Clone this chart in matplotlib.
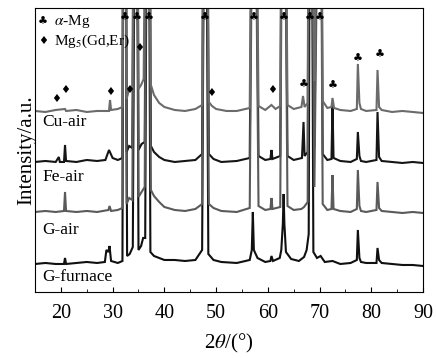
import matplotlib
matplotlib.use("Agg")
import matplotlib.pyplot as plt
from matplotlib.ticker import MultipleLocator

plt.rcParams['font.family'] = ['Liberation Serif', 'DejaVu Sans']
plt.rcParams['mathtext.fontset'] = 'stix'

# XRD traces (2theta, intensity above each trace's baseline)
# 400 = peak runs off the top of the frame
cu_air_x = [15, 17, 19, 20.8, 21, 23, 25, 27, 29.3, 29.5, 29.7, 31, 31.9, 32.1, 32.5, 32.7, 33.2, 33.8,
            34.3, 34.7, 35.0, 35.5, 36.0, 36.6, 37.0, 37.4, 38.0, 39.0, 40.0, 42, 44, 46, 47.3, 47.7,
            48.1, 48.6, 49.2, 50, 52, 54, 56.5, 57.1, 57.5, 58.2, 59.5, 60.7, 61.5, 62.4, 62.8, 63.2,
            63.8, 65, 66.5, 66.8, 67.1, 67.7, 68.0, 68.4, 69.0, 69.8, 70.2, 70.6, 71.5, 72.3, 72.5,
            72.8, 74, 76, 77.2, 77.4, 77.7, 78, 79, 81.0, 81.2, 81.5, 82, 84, 86, 88, 90]
cu_air_y = [0, -1, 1, 2, 0, 1, -1, 0, 0, 11, 1, 2, 4, 400, 400, 12, 22, 24,
            400, 400, 22, 26, 32, 400, 400, 26, 16, 8, 4, 1, 0, 2, 6, 400,
            400, 9, 5, 2, 0, 0, 3, 400, 400, 5, 1, 6, 2, 5, 400, 400,
            6, 2, 4, 15, 4, 8, 400, 400, 30, 400, 400, 10, 3, 4, 13,
            3, 1, 0, 2, 47, 8, 2, 0, 1, 41, 4, 1, -1, 0, -1, -2]

fe_air_x = [15, 17, 19, 19.6, 19.8, 20.6, 20.8, 21.0, 23, 25, 27, 28.6, 29.3, 30.0, 31, 31.9, 32.1,
            32.5, 32.7, 33.2, 33.8, 34.3, 34.7, 35.0, 35.6, 36.2, 36.6, 37.0, 37.4, 38, 39, 40, 42,
            44, 46, 47.3, 47.7, 48.1, 48.6, 49.5, 51, 54, 56.5, 57.1, 57.5, 58.2, 59.5, 60.5, 60.7,
            60.9, 62.4, 62.8, 63.2, 63.8, 65, 66.6, 66.9, 67.1, 67.7, 68.0, 68.4, 69.0, 69.8, 70.2,
            70.6, 71.5, 72.3, 72.5, 72.7, 74, 76, 77.2, 77.4, 77.7, 78, 79, 81.0, 81.2, 81.5, 82,
            84, 86, 88, 90]
fe_air_y = [0, 1, 0, 5, 0, 0, 17, 1, 0, 2, 1, 2, 12, 4, 2, 4, 400,
            400, 10, 16, 14, 400, 400, 12, 18, 20, 400, 400, 16, 10, 5, 2, 0,
            1, 2, 8, 400, 400, 8, 3, 0, 1, 4, 400, 400, 6, 2, 3, 12,
            3, 6, 400, 400, 6, 2, 4, 40, 6, 10, 400, 400, 15, 400, 400,
            8, 2, 3, 58, 4, 1, 0, 3, 30, 6, 1, 0, 2, 50, 5, 1,
            0, -1, 0, -1]

g_air_x = [15, 17, 19, 20.6, 20.8, 21.0, 23, 25, 27, 29.2, 29.4, 29.7, 31, 31.9, 32.1, 32.5, 32.7,
           33.2, 33.8, 34.3, 34.7, 35, 35.6, 36.2, 36.6, 37.0, 37.4, 38, 39, 40, 42, 44, 46, 47.3,
           47.7, 48.1, 48.6, 49.5, 51, 54, 56.5, 57.1, 57.5, 58.2, 59.5, 60.5, 60.7, 60.9, 62.4,
           62.8, 63.2, 63.8, 65, 66.5, 67.0, 67.7, 68.0, 68.4, 69.0, 69.8, 70.2, 70.6, 71.5, 72.3,
           72.5, 72.7, 74, 76, 77.2, 77.4, 77.7, 78, 79, 81, 81.2, 81.5, 82, 84, 86, 88, 90]
g_air_y = [0, 1, 0, 1, 20, 1, 0, 1, 0, 2, 6, 1, 2, 4, 400, 400, 8,
           14, 12, 400, 400, 15, 20, 25, 400, 400, 22, 16, 10, 5, 2, 1, 3, 8,
           400, 400, 8, 4, 1, 0, 4, 400, 400, 6, 2, 3, 14, 3, 5,
           400, 400, 6, 2, 3, 5, 10, 400, 400, 25, 400, 400, 8, 2, 3,
           37, 3, 1, 0, 3, 42, 6, 1, 0, 2, 30, 4, 1, 0, -1, 0, -1]

g_furnace_x = [15, 17, 19, 20.6, 20.8, 21, 23, 25, 27, 28.5, 28.8, 29.2, 29.4, 29.7, 31, 31.9, 32.1,
               32.5, 32.8, 33.3, 33.9, 34.3, 34.7, 35.0, 35.5, 35.9, 36.3, 36.6, 37.0, 37.3, 38, 40,
               42, 44, 46, 47.3, 47.7, 48.1, 48.5, 49.5, 51, 54, 56.5, 56.9, 57.1, 57.3, 58, 59.5,
               60.5, 60.7, 61, 62.3, 62.6, 62.9, 63.05, 63.2, 63.5, 64.5, 66, 67.0, 67.5, 67.9, 68.1,
               68.5, 68.8, 69.5, 70.2, 71, 72.5, 74, 76, 77.2, 77.4, 77.7, 78, 79, 81, 81.2, 81.5,
               82, 84, 86, 88, 90]
g_furnace_y = [0, 1, 0, 0, 6, 0, 1, 2, 1, 2, 14, 12, 18, 3, 1, 3, 400,
               400, 8, 10, 17, 400, 400, 14, 18, 26, 26, 400, 400, 12, 8, 4,
               4, 3, 4, 14, 400, 400, 10, 4, 2, 1, 4, 14, 52, 14, 6, 2,
               3, 8, 3, 6, 14, 40, 70, 40, 12, 5, 3, 7, 14, 30, 400,
               400, 12, 6, 8, 2, 3, 0, 1, 4, 34, 6, 2, 1, 1, 16, 4,
               1, 0, -1, -1, -2]

labels = ['Cu-air', 'Fe-air', 'G-air', 'G-furnace']
baselines = [181, 130, 80, 28]
colors = ['#6b6b6b', '#151515', '#5a5a5a', '#101010']

# phase markers
club_x = [32.3, 34.7, 36.9, 47.9, 57.3, 63.0, 68.2, 70.1, 66.9, 72.5, 77.4, 81.7]
club_y = [274, 274, 274, 274, 274, 274, 274, 274, 207, 206, 233, 237]
diamond_x = [19.1, 20.8, 29.5, 33.2, 35.2, 49.0, 60.8]
diamond_y = [193, 202, 200, 202, 244, 199, 202]

fig = plt.figure(figsize=(4.36, 3.58), dpi=100)
ax = fig.add_axes([0.0803, 0.1844, 0.89, 0.7933])

traces = [(cu_air_x, cu_air_y), (fe_air_x, fe_air_y), (g_air_x, g_air_y), (g_furnace_x, g_furnace_y)]
for i in [3, 1, 2, 0]:
    xs, ys = traces[i]
    ax.plot(xs, [v + baselines[i] for v in ys], color=colors[i], lw=1.5, solid_joinstyle='miter')

label_y = [170, 115, 62, 15]
for lab, ly in zip(labels, label_y):
    ax.text(16.4, ly, lab, fontsize=12.5, va='center', ha='left')

for cx, cy in zip(club_x, club_y):
    ax.text(cx, cy, '\u2663', family='DejaVu Sans', fontsize=8, ha='center', va='center')
for dx, dy in zip(diamond_x, diamond_y):
    ax.text(dx, dy, '\u2666', family='DejaVu Sans', fontsize=8, ha='center', va='center')

# legend
ax.text(0.021, 0.951, '\u2663', family='DejaVu Sans', fontsize=8, ha='center', va='center', transform=ax.transAxes)
ax.text(0.05, 0.951, r'$\alpha$-Mg', fontsize=11, ha='left', va='center', transform=ax.transAxes)
ax.text(0.021, 0.884, '\u2666', family='DejaVu Sans', fontsize=8, ha='center', va='center', transform=ax.transAxes)
ax.text(0.05, 0.884, r'Mg$_5$(Gd,Er)', fontsize=11, ha='left', va='center', transform=ax.transAxes)

ax.set_xlim(15, 90)
ax.set_ylim(0, 284)
ax.xaxis.set_major_locator(MultipleLocator(10))
ax.xaxis.set_minor_locator(MultipleLocator(5))
ax.tick_params(axis='x', which='major', direction='in', length=3.5, labelsize=14.5, pad=9)
ax.tick_params(axis='x', which='minor', direction='in', length=2)
ax.set_yticks([])
ax.set_xlabel(r'2$\theta$/(°)', fontsize=15, labelpad=6)
ax.set_ylabel('Intensity/a.u.', fontsize=15, labelpad=-1)

fig.savefig('out.png', dpi=100)
